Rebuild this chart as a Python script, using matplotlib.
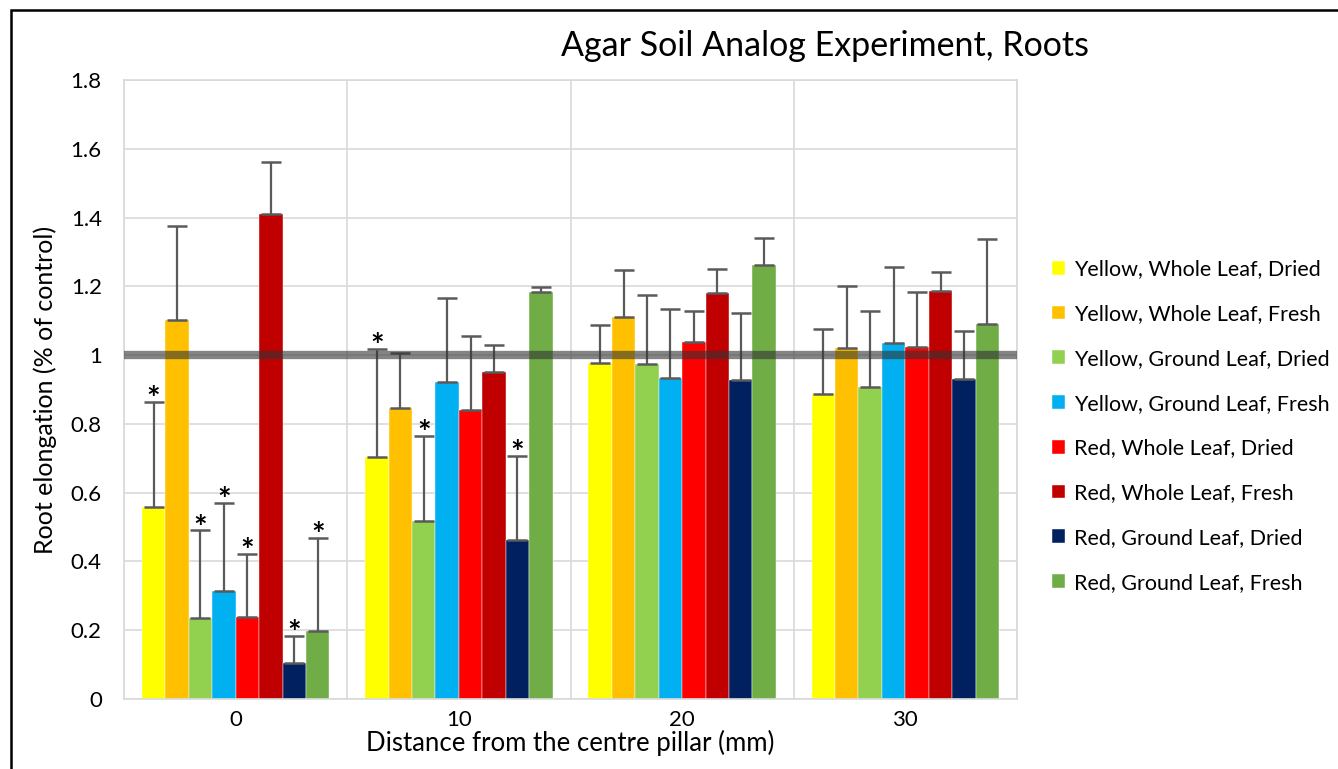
import numpy as np
import matplotlib
matplotlib.use('Agg')
import matplotlib.pyplot as plt
from matplotlib.patches import Rectangle

plt.rcParams['font.family'] = ['Lato', 'DejaVu Sans']

# Data
distances = ['0', '10', '20', '30']
series_names = ['Yellow, Whole Leaf, Dried', 'Yellow, Whole Leaf, Fresh',
                'Yellow, Ground Leaf, Dried', 'Yellow, Ground Leaf, Fresh',
                'Red, Whole Leaf, Dried', 'Red, Whole Leaf, Fresh',
                'Red, Ground Leaf, Dried', 'Red, Ground Leaf, Fresh']
colors = ['#FFFF00', '#FFC000', '#92D050', '#00B0F0',
          '#FF0000', '#C00000', '#002060', '#70AD47']

# mean root elongation, one row per series, one column per distance
means = [
    [0.557, 0.704, 0.978, 0.888],
    [1.101, 0.846, 1.110, 1.020],
    [0.236, 0.519, 0.975, 0.907],
    [0.315, 0.922, 0.932, 1.035],
    [0.237, 0.839, 1.037, 1.025],
    [1.410, 0.951, 1.180, 1.186],
    [0.105, 0.463, 0.929, 0.931],
    [0.198, 1.183, 1.261, 1.091],
]
# top of the error bar
err_tops = [
    [0.863, 1.018, 1.088, 1.076],
    [1.374, 1.006, 1.247, 1.202],
    [0.490, 0.765, 1.176, 1.129],
    [0.570, 1.167, 1.134, 1.257],
    [0.421, 1.056, 1.128, 1.184],
    [1.563, 1.029, 1.250, 1.243],
    [0.182, 0.708, 1.122, 1.071],
    [0.467, 1.197, 1.340, 1.338],
]
# significance stars (series index, distance index)
stars = [(0, 0), (2, 0), (3, 0), (4, 0), (6, 0), (7, 0),
         (0, 1), (2, 1), (6, 1)]

fig = plt.figure(figsize=(13.38, 7.69), dpi=100)
ax = fig.add_axes([124 / 1338, 1 - 699 / 769, (1017 - 124) / 1338, (699 - 80) / 769])

x = np.arange(len(distances))
width = 0.105
n = len(series_names)
for i in range(n):
    pos = x + (i - (n - 1) / 2) * width
    m = np.array(means[i])
    up = np.array(err_tops[i]) - m
    ax.bar(pos, m, width, color=colors[i], label=series_names[i], zorder=2,
           edgecolor='white', linewidth=0.3)
    ax.errorbar(pos, m, yerr=[np.zeros_like(m), up], fmt='none', ecolor='#5a5a5a',
                elinewidth=1.6, capsize=7, capthick=1.8, zorder=3)

for i, j in stars:
    pos = x[j] + (i - (n - 1) / 2) * width
    ax.text(pos, err_tops[i][j] - 0.038, '*', ha='center', va='bottom',
            fontsize=23, fontweight='bold', color='black', zorder=4)

ax.axhline(1.0, color='#333333', alpha=0.6, linewidth=6, zorder=4)

ax.set_xlim(-0.5, 3.5)
ax.set_ylim(0, 1.8)
ax.set_yticks(np.arange(0, 1.81, 0.2))
ax.set_yticklabels(['0', '0.2', '0.4', '0.6', '0.8', '1', '1.2', '1.4', '1.6', '1.8'])
ax.set_xticks(x)
ax.set_xticklabels(distances)
ax.set_xticks(np.arange(-0.5, 3.6, 1), minor=True)
ax.tick_params(axis='both', which='both', length=0, labelsize=16, colors='#000000')
ax.tick_params(axis='y', pad=16)
ax.tick_params(axis='x', pad=8)
ax.grid(axis='y', which='major', color='#d9d9d9', linewidth=1.2, zorder=0)
ax.grid(axis='x', which='minor', color='#d9d9d9', linewidth=1.2, zorder=0)
ax.set_axisbelow(True)
for s in ax.spines.values():
    s.set_color('#d9d9d9')
    s.set_linewidth(1.2)

ax.set_xlabel('Distance from the centre pillar (mm)', fontsize=18.5, labelpad=0)
ax.set_ylabel('Root elongation (% of control)', fontsize=18, labelpad=10)
fig.text(825 / 1338, 1 - 46 / 769, 'Agar Soil Analog Experiment, Roots',
         ha='center', va='center', fontsize=24.5)

ax.legend(loc='center left', bbox_to_anchor=(1033 / 1338, 1 - 426 / 769),
          bbox_transform=fig.transFigure, frameon=False, fontsize=15.5,
          handlelength=0.6, handleheight=0.6, handletextpad=0.4,
          labelspacing=1.15)

# outer chart border
fig.patches.append(Rectangle((11 / 1338, -0.1), 1.2, 1 - 10 / 769 + 0.1,
                             transform=fig.transFigure, fill=False,
                             edgecolor='black', linewidth=1.8))

fig.savefig('out.png', dpi=100)
